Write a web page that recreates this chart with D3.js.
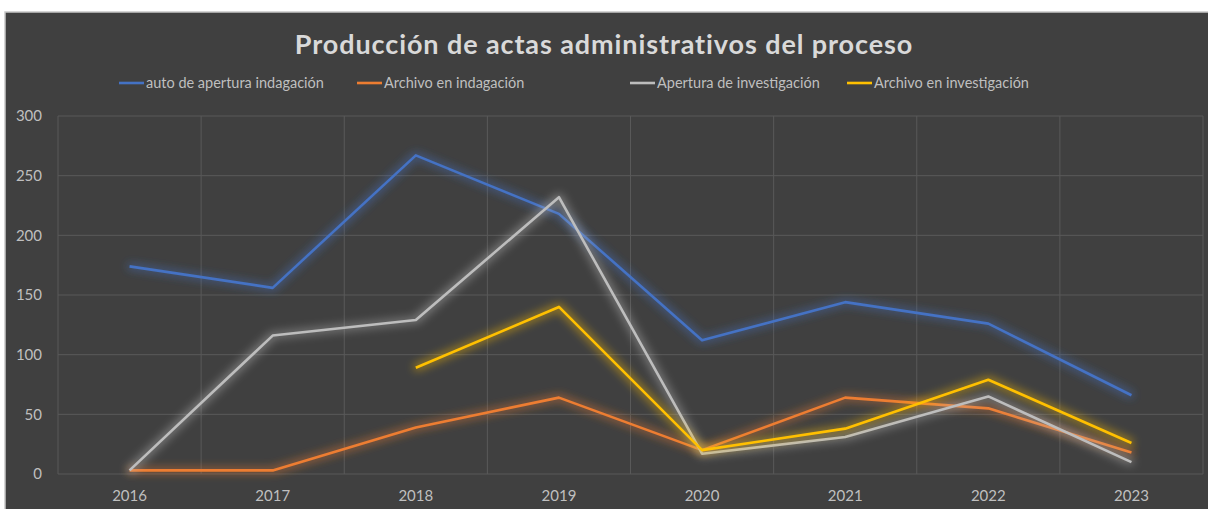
<!DOCTYPE html>
<html>
<head>
<meta charset="utf-8">
<script src="https://d3js.org/d3.v7.min.js"></script>
<style>
  html, body { margin: 0; padding: 0; background: #ffffff; }
  svg { display: block; }
  text { font-family: Lato, "Open Sans", "Liberation Sans", sans-serif; }
</style>
</head>
<body>
<svg id="chart" width="1208" height="509"></svg>
<script>
// data
var years = ["2016", "2017", "2018", "2019", "2020", "2021", "2022", "2023"];
var autoApertura = [174, 156, 267, 218, 112, 144, 126, 66];
var archivoIndagacion = [3, 3, 39, 64, 20, 64, 55, 18];
var aperturaInvestigacion = [3, 116, 129, 232, 17, 31, 65, 10];
var archivoInvestigacion = [null, null, 89, 140, 20, 38, 79, 26];
var yTicks = [0, 50, 100, 150, 200, 250, 300];

var series = [
  { name: "auto de apertura indagación", values: autoApertura, color: "#4472C4", lx: 119 },
  { name: "Archivo en indagación", values: archivoIndagacion, color: "#ED7D31", lx: 357 },
  { name: "Apertura de investigación", values: aperturaInvestigacion, color: "#BDBDBD", lx: 630 },
  { name: "Archivo en investigación", values: archivoInvestigacion, color: "#FFC000", lx: 847 }
];

var svg = d3.select("#chart");
var plotLeft = 58, plotRight = 1203, plotTop = 116, plotBottom = 474;

// panel
svg.append("rect").attr("x", 5).attr("y", 12).attr("width", 1210).attr("height", 510)
  .attr("fill", "#404040").attr("stroke", "#c8c8c8").attr("stroke-width", 1.5);

// soft glow round the lines
var defs = svg.append("defs");
var glow = defs.append("filter").attr("id", "glow")
  .attr("filterUnits", "userSpaceOnUse")
  .attr("x", 0).attr("y", 0).attr("width", 1208).attr("height", 509);
glow.append("feMorphology").attr("in", "SourceGraphic").attr("operator", "dilate").attr("radius", 2).attr("result", "thick");
glow.append("feGaussianBlur").attr("in", "thick").attr("stdDeviation", 4).attr("result", "blur");
glow.append("feComponentTransfer").attr("in", "blur").attr("result", "soft")
  .append("feFuncA").attr("type", "linear").attr("slope", 0.45);
var merge = glow.append("feMerge");
merge.append("feMergeNode").attr("in", "soft");
merge.append("feMergeNode").attr("in", "SourceGraphic");

var x = d3.scaleBand().domain(years).range([plotLeft, plotRight]);
var y = d3.scaleLinear().domain([0, 300]).range([plotBottom, plotTop]);

// grid
svg.append("g").selectAll("line").data(yTicks).enter().append("line")
  .attr("x1", plotLeft).attr("x2", plotRight)
  .attr("y1", d => y(d)).attr("y2", d => y(d))
  .attr("stroke", "#595959").attr("stroke-width", 1);
var xEdges = years.map(d => x(d)).concat([plotRight]);
svg.append("g").selectAll("line").data(xEdges).enter().append("line")
  .attr("x1", d => d).attr("x2", d => d)
  .attr("y1", plotTop).attr("y2", plotBottom)
  .attr("stroke", "#595959").attr("stroke-width", 1);

// axes labels
var yAxis = d3.axisLeft(y).tickValues(yTicks).tickSize(0).tickPadding(16);
var gy = svg.append("g").attr("transform", "translate(" + plotLeft + ",0)").call(yAxis);
gy.select(".domain").remove();
gy.selectAll("text").attr("fill", "#bfbfbf").style("font-size", "15px")
  .style("font-family", "Lato, 'Open Sans', sans-serif");

var xAxis = d3.axisBottom(x).tickSize(0).tickPadding(16);
var gx = svg.append("g").attr("transform", "translate(0," + plotBottom + ")").call(xAxis);
gx.select(".domain").remove();
gx.selectAll("text").attr("fill", "#bfbfbf").style("font-size", "15px")
  .style("font-family", "Lato, 'Open Sans', sans-serif");

// lines
var line = d3.line()
  .defined(d => d.v != null)
  .x(d => x(d.year) + x.bandwidth() / 2)
  .y(d => y(d.v));

series.forEach(function(s) {
  var pts = years.map((yr, i) => ({ year: yr, v: s.values[i] }));
  svg.append("path").datum(pts)
    .attr("d", line)
    .attr("fill", "none")
    .attr("stroke", s.color)
    .attr("stroke-width", 2.6)
    .attr("stroke-linejoin", "round")
    .attr("filter", "url(#glow)");
});

// title
svg.append("text").attr("x", 604).attr("y", 54)
  .attr("text-anchor", "middle")
  .attr("fill", "#d9d9d9")
  .style("font-size", "27px").style("font-weight", "bold")
  .style("letter-spacing", "0.9px")
  .text("Producción de actas administrativos del proceso");

// legend
var lg = svg.append("g").selectAll("g").data(series).enter().append("g")
  .attr("transform", d => "translate(" + d.lx + ",83)");
lg.append("line").attr("x1", 0).attr("x2", 25).attr("y1", 0).attr("y2", 0)
  .attr("stroke", d => d.color).attr("stroke-width", 2.6);
lg.append("text").attr("x", 27).attr("y", 5)
  .attr("fill", "#bfbfbf").style("font-size", "14.5px")
  .text(d => d.name);
</script>
</body>
</html>
